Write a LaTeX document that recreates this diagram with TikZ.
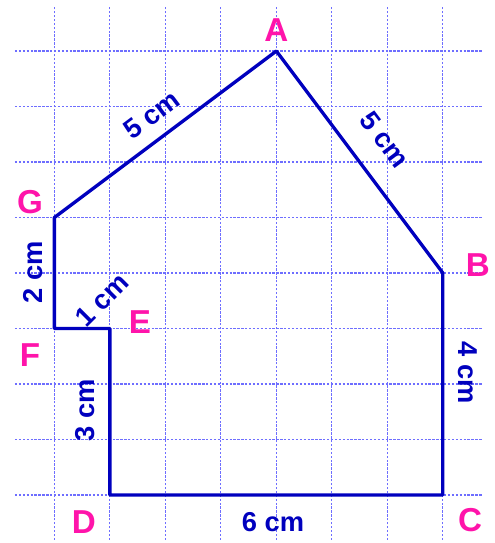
\documentclass[tikz,border=0pt]{standalone}
\usepackage{fontspec}
\setmainfont{Liberation Sans}
\definecolor{gridblue}{RGB}{110,110,255}
\definecolor{edgeblue}{RGB}{0,0,190}
\definecolor{ptpink}{RGB}{255,20,170}
\tikzset{
  pt/.style={text=ptpink, font=\bfseries\fontsize{17}{17}\selectfont, inner sep=0pt},
  len/.style={text=edgeblue, font=\bfseries\fontsize{14}{14}\selectfont, inner sep=0pt},
}
\begin{document}
\begin{tikzpicture}
	\useasboundingbox (-1.98,-0.865) rectangle (6.94,8.92);
	% grid
	\foreach \y in {0,...,8}
		\draw[gridblue, dash pattern=on 1.2pt off 0.8pt, line width=0.6pt] (-1.71,\y) -- (6.70,\y);
	\foreach \x in {-1,...,6}
		\draw[gridblue, dash pattern=on 1.2pt off 0.8pt, line width=0.6pt] (\x,-0.81) -- (\x,8.79);
	% vertices
	\coordinate (A) at (3,8);
	\coordinate (B) at (6,4);
	\coordinate (C) at (6,0);
	\coordinate (D) at (0,0);
	\coordinate (E) at (0,3);
	\coordinate (F) at (-1,3);
	\coordinate (G) at (-1,5);
	\draw[edgeblue, line width=1.7pt, line join=round] (A) -- (B) -- (C) -- (D) -- (E) -- (F) -- (G) -- cycle;
	% letters
	\node[pt] (lA) at (3,8.38) {A};
	\node[pt] (lB) at (6.63,4.14) {B};
	\node[pt] (lC) at (6.49,-0.45) {C};
	\node[pt] (lD) at (-0.47,-0.49) {D};
	\node[pt] (lE) at (0.54,3.12) {E};
	\node[pt] (lF) at (-1.44,2.52) {F};
	\node[pt] (lG) at (-1.44,5.28) {G};
	% lengths
	\node[len, rotate=36.87] (lGA) at (0.75,6.85) {5 cm};
	\node[len, rotate=-53.13] (lAB) at (4.95,6.4) {5 cm};
	\node[len, rotate=-90] (lBC) at (6.45,2.2) {4 cm};
	\node[len] (lCD) at (2.94,-0.49) {6 cm};
	\node[len, rotate=90] (lDE) at (-0.45,1.53) {3 cm};
	\node[len, rotate=45] (lEF) at (-0.14,3.51) {1 cm};
	\node[len, rotate=90] (lFG) at (-1.39,4.02) {2 cm};
\end{tikzpicture}
\end{document}
